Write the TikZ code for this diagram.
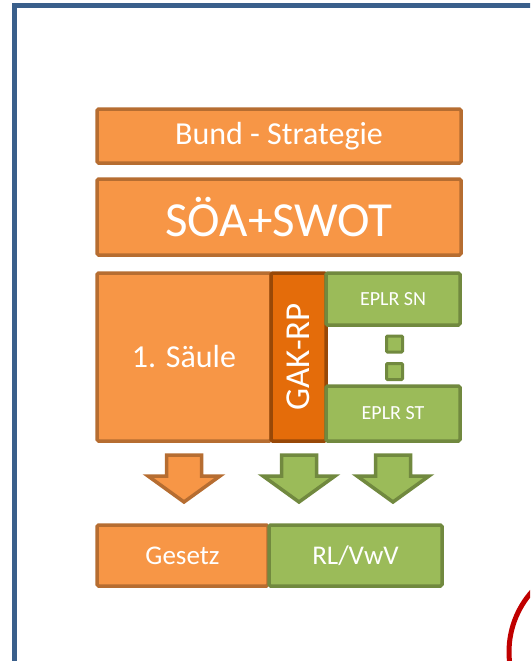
\documentclass[tikz,border=0pt]{standalone}
\usepackage{fontspec}
\setmainfont{Carlito}
\usepackage{tikz}
\usetikzlibrary{positioning}
\definecolor{frameblue}{HTML}{3A5F8B}
\definecolor{orfill}{HTML}{F79646}
\definecolor{ordraw}{HTML}{B66D31}
\definecolor{gakfill}{HTML}{E46C0A}
\definecolor{gakdraw}{HTML}{984807}
\definecolor{grfill}{HTML}{9BBB59}
\definecolor{grdraw}{HTML}{71893F}
\definecolor{ringred}{HTML}{C00000}

\begin{document}
\begin{tikzpicture}[x=1pt, y=-1pt,
    obox/.style={draw=ordraw, fill=orfill, line width=3.5pt, rounded corners=1.5pt, text=white, inner sep=0pt},
    gbox/.style={draw=grdraw, fill=grfill, line width=3.5pt, rounded corners=1.5pt, text=white, inner sep=0pt},
    dotbox/.style={draw=grdraw, fill=grfill, line width=3pt, rounded corners=1pt, minimum size=16pt, inner sep=0pt},
    fs/.style={font=\fontsize{#1}{#1}\selectfont}]
    \useasboundingbox (0,0) rectangle (530,661);
    \clip (0,0) rectangle (530,661);

    % frame and red ring
    \draw[frameblue, line width=5pt] (14.5,700) -- (14.5,6) -- (600,6);
    \draw[ringred, line width=5pt] (600,652) circle (91);

    \node[obox, fs=32, minimum width=364pt, minimum height=54pt] (bund) at (279,136) {Bund - Strategie};
    \node[obox, fs=49, minimum width=364pt, minimum height=76pt] (soea) at (279,217) {SÖA+SWOT};

    \node[obox, fs=32, minimum width=174pt, minimum height=168pt] (saeule) at (184,357) {1. Säule};
    \node[obox, draw=gakdraw, fill=gakfill, fs=35, rotate=90, minimum width=168pt, minimum height=55pt] (gak) at (298.5,357) {GAK-RP};
    \node[gbox, fs=20, minimum width=134pt, minimum height=52pt] (sn) at (393,299) {EPLR SN};
    \node[gbox, fs=20, minimum width=134pt, minimum height=55pt] (st) at (393,413.5) {EPLR ST};
    \node[dotbox] (d1) at (394.5,344) {};
    \node[dotbox] (d2) at (394.5,371.5) {};

    % block arrows
    \foreach \x/\f/\d in {184/orfill/ordraw, 299/grfill/grdraw, 393/grfill/grdraw}
        \draw[draw=\d, fill=\f, line width=3.5pt, line join=miter]
            (\x-17.5,455) -- (\x+17.5,455) -- (\x+17.5,476) -- (\x+36,476) -- (\x,502)
            -- (\x-36,476) -- (\x-17.5,476) -- cycle;

    \node[obox, fs=27, minimum width=171pt, minimum height=61pt] (gesetz) at (182.5,555.5) {Gesetz};
    \node[gbox, fs=27, minimum width=173pt, minimum height=61pt] (rl) at (355.5,555.5) {RL/VwV};
\end{tikzpicture}
\end{document}
